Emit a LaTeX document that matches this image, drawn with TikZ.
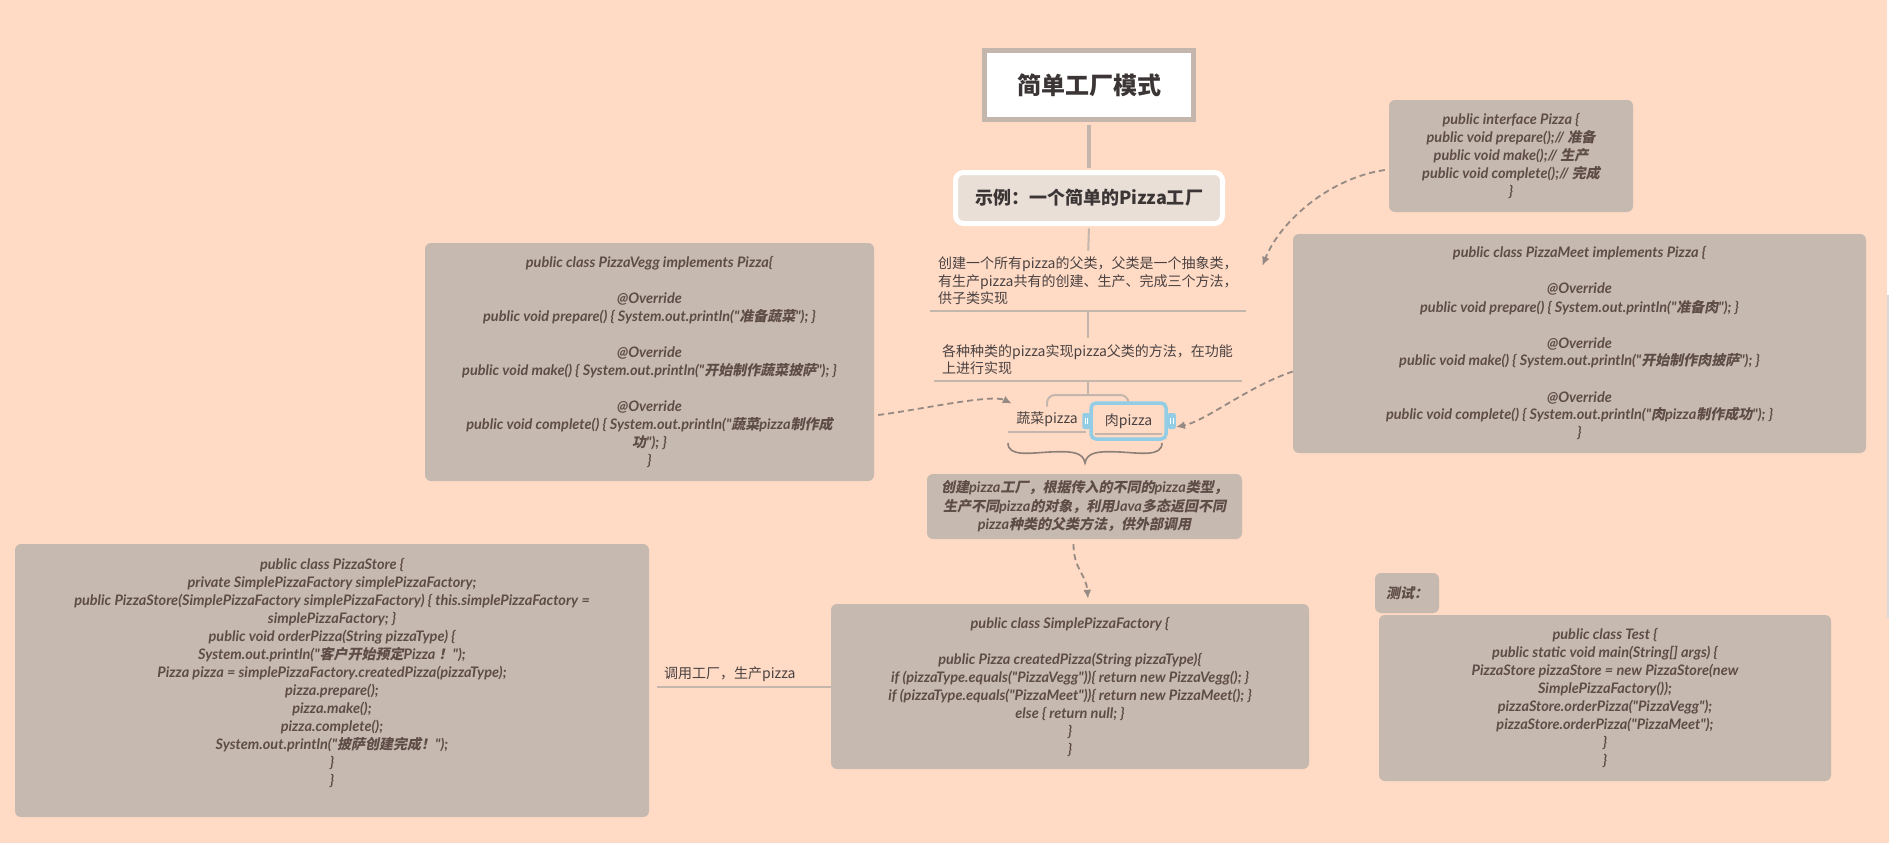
\documentclass[tikz,border=0pt]{standalone}
\usepackage{fontspec}
\newfontfamily\cjkfont{Noto Sans CJK SC}
\newfontfamily\cjkslant{Noto Sans CJK SC}[FakeSlant=0.2]
\newfontfamily\latcode{Lato}
\usetikzlibrary{arrows.meta,calc}
\newcommand\zhs[1]{{\cjkslant\fontsize{14}{18}\selectfont#1}}
\definecolor{bg}{HTML}{FFDAC4}
\definecolor{boxc}{HTML}{C6B9AF}
\definecolor{codec}{HTML}{5E4C47}
\definecolor{txtc}{HTML}{4A4242}
\definecolor{titlec}{HTML}{3B3535}
\definecolor{linec}{HTML}{C4B6AC}
\definecolor{dashc}{HTML}{958A84}
\definecolor{bracec}{HTML}{8C8079}
\definecolor{selc}{HTML}{93CCE5}
\definecolor{subfill}{HTML}{EADFD7}
\tikzset{
  codebox/.style={fill=boxc, rounded corners=6pt, text=codec, align=center, inner sep=0pt,
    font={\latcode\bfseries\itshape\fontsize{14.5}{18}\selectfont}},
  topic/.style={text=txtc, align=left, font={\cjkfont\fontsize{14}{17.5}\selectfont},
    inner xsep=8pt, inner ysep=6pt, anchor=south west},
  uline/.style={draw=linec, line width=2pt},
  branch/.style={draw=linec, line width=2pt},
  dasharrow/.style={draw=dashc, line width=1.8pt, dash pattern=on 6pt off 4pt,
    -{Latex[length=9pt,width=8pt]}},
  handle/.style={fill=selc, rounded corners=2pt, minimum width=8pt, minimum height=16pt, inner sep=0pt}
}
\begin{document}
\begin{tikzpicture}[x=1pt,y=-1pt]
\fill[bg] (0,0) rectangle (1889,843);
\useasboundingbox (0,0) rectangle (1889,843);
\fill[white!92!bg] (1887,0) rectangle (1889,295);
\fill[black!15] (1887,295) rectangle (1889,618);

% central topics
\node[draw=linec, line width=5pt, fill=white, minimum width=209pt, minimum height=69pt, inner sep=0pt,
  text=titlec, font={\cjkfont\bfseries\fontsize{24}{28}\selectfont}] (title) at (1089,85) {简单工厂模式};
\node[draw=white, line width=5pt, fill=subfill, rounded corners=8pt, minimum width=267pt, minimum height=51pt,
  inner sep=0pt, text=titlec, font={\cjkfont\bfseries\fontsize{18}{22}\selectfont}] (sub) at (1089,198) {示例：一个简单的Pizza工厂};
\draw[branch, line width=4pt, shorten <=2.5pt, shorten >=2.5pt] (title.south) -- (sub.north);

\node[topic, minimum width=316pt, text width=300pt] (t1) at (930,311)
  {创建一个所有pizza的父类，父类是一个抽象类，\\有生产pizza共有的创建、生产、完成三个方法，\\供子类实现};
\draw[uline] (t1.south west) -- (t1.south east);
\draw[branch, shorten <=2.5pt] (sub.south) -- (t1.north);

\node[topic, minimum width=308pt, text width=292pt] (t2) at (934,381)
  {各种种类的pizza实现pizza父类的方法，在功能\\上进行实现};
\draw[uline] (t2.south west) -- (t2.south east);
\draw[branch] (t1.south) -- (t2.north);

% children
\node[topic, anchor=south, minimum width=78pt, inner ysep=5pt] (veg) at (1047,432) {蔬菜pizza};
\draw[uline] (veg.south west) -- (veg.south east);
\coordinate (bk) at ($(t2.south)+(0,14)$);
\draw[branch] (t2.south) -- (bk);
\draw[branch, rounded corners=8pt] (veg.north) -- (veg.north |- bk) -- (1128.5,395) -- (1128.5,403);
\node[draw=selc, line width=3.5pt, rounded corners=5pt, minimum width=75pt, minimum height=36pt, inner sep=0pt,
  text=txtc, font={\cjkfont\fontsize{14}{17.5}\selectfont}] (meat) at (1128.5,421) {肉pizza};
\draw[uline] ($(meat.south west)+(6,-7)$) -- ($(meat.south east)+(-6,-7)$);
\node[handle] (hl) at ($(meat.west)+(-3,0)$) {};
\node[handle] (hr) at ($(meat.east)+(4,0)$) {};
\foreach \h in {hl,hr}{
  \draw[white, line width=0.8pt] ($(\h.center)+(-1.3,-3)$) -- ++(0,6);
  \draw[white, line width=0.8pt] ($(\h.center)+(1.3,-3)$) -- ++(0,6);
}
% brace
\draw[bracec, line width=1.6pt] (1008,443) .. controls (1008,457) and (1030,453) .. (1050,452)
  .. controls (1072,451) and (1083,452) .. (1085,463)
  .. controls (1087,452) and (1098,451) .. (1120,452)
  .. controls (1140,453) and (1162,457) .. (1162,443);

% summary
\node[codebox, minimum width=315pt, minimum height=65pt,
  font={\latcode\bfseries\itshape\fontsize{14.5}{18.5}\selectfont}] (sum) at (1084.5,506.5)
  {\zhs{创建}pizza\zhs{工厂，根据传入的不同的}pizza\zhs{类型，}\\\zhs{生产不同}pizza\zhs{的对象，利用}Java\zhs{多态返回不同}\\pizza\zhs{种类的父类方法，供外部调用}};

% code boxes
\node[codebox, minimum width=244pt, minimum height=112pt] (iface) at (1511,156)
  {public interface Pizza \{\\public void prepare();// \zhs{准备}\\public void make();// \zhs{生产}\\public void complete();// \zhs{完成}\\\}};

\node[codebox, minimum width=573pt, minimum height=219pt] (meet) at (1579.5,343.5)
  {public class PizzaMeet implements Pizza \{\\[18pt]@Override\\public void prepare() \{ System.out.println("\zhs{准备肉}"); \}\\[18pt]@Override\\public void make() \{ System.out.println("\zhs{开始制作肉披萨}"); \}\\[18pt]@Override\\public void complete() \{ System.out.println("\zhs{肉}pizza\zhs{制作成功}"); \}\\\}};

\node[codebox, minimum width=449pt, minimum height=238pt] (vegg) at (649.5,362)
  {public class PizzaVegg implements Pizza\{\\[18pt]@Override\\public void prepare() \{ System.out.println("\zhs{准备蔬菜}"); \}\\[18pt]@Override\\public void make() \{ System.out.println("\zhs{开始制作蔬菜披萨}"); \}\\[18pt]@Override\\public void complete() \{ System.out.println("\zhs{蔬菜}pizza\zhs{制作成}\\\zhs{功}"); \}\\\}};

\node[codebox, minimum width=478pt, minimum height=165pt] (spf) at (1070,686.5)
  {public class SimplePizzaFactory \{\\[18pt]public Pizza createdPizza(String pizzaType)\{\\if (pizzaType.equals("PizzaVegg"))\{ return new PizzaVegg(); \}\\if (pizzaType.equals("PizzaMeet"))\{ return new PizzaMeet(); \}\\else \{ return null; \}\\\}\\\}};

\node[codebox, minimum width=634pt, minimum height=273pt] (store) at (332,680.5)
  {public class PizzaStore \{\\private SimplePizzaFactory simplePizzaFactory;\\public PizzaStore(SimplePizzaFactory simplePizzaFactory) \{ this.simplePizzaFactory =\\simplePizzaFactory; \}\\public void orderPizza(String pizzaType) \{\\System.out.println("\zhs{客户开始预定}Pizza \zhs{！}");\\Pizza pizza = simplePizzaFactory.createdPizza(pizzaType);\\pizza.prepare();\\pizza.make();\\pizza.complete();\\System.out.println("\zhs{披萨创建完成！}");\\\}\\\}\\\mbox{}};

\node[codebox, minimum width=64pt, minimum height=40pt] (testlbl) at (1407,593) {\zhs{测试：}};

\node[codebox, minimum width=452pt, minimum height=166pt] (test) at (1605,698)
  {public class Test \{\\public static void main(String[] args) \{\\PizzaStore pizzaStore = new PizzaStore(new\\SimplePizzaFactory());\\pizzaStore.orderPizza("PizzaVegg");\\pizzaStore.orderPizza("PizzaMeet");\\\}\\\}};

% store -> factory labelled branch
\node[topic, minimum width=174pt, text width=160pt, inner xsep=7pt, inner ysep=5pt] (lbl) at (657,687) {调用工厂，生产pizza};
\draw[branch] (lbl.south west) -- (spf.west |- lbl.south);

% dashed relations
\draw[dasharrow] ($(iface.west)+(-4,14)$) .. controls +(-55,8) and +(18,-45) .. ($(t1.east)+(16,-15)$);
\draw[dasharrow] ($(meet.west)+(0,28)$) .. controls +(-45,15) and +(30,-6) .. ($(hr.east)+(0,6)$);
\draw[dasharrow] ($(vegg.east)+(4,53)$) .. controls +(40,-5) and +(-20,-10) .. ($(veg.north west)+(4,-3)$);
\draw[dasharrow] ($(sum.south)+(-11,5)$) .. controls +(0,25) and +(-2,-25) .. ($(spf.north)+(18,-5)$);
\end{tikzpicture}
\end{document}
